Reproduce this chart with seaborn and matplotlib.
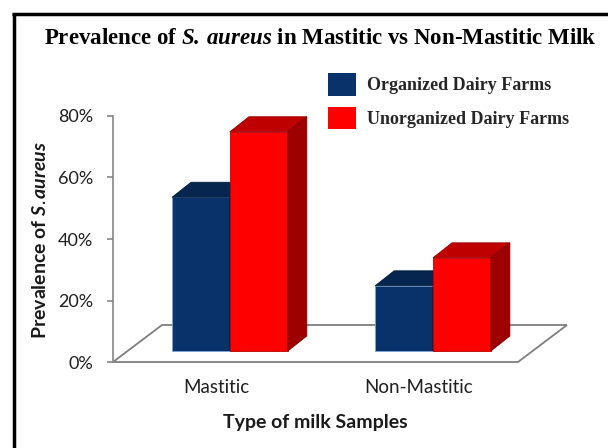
import numpy as np
import pandas as pd
import matplotlib
matplotlib.use("Agg")
import matplotlib.pyplot as plt
import seaborn as sns
from matplotlib.transforms import ScaledTranslation, IdentityTransform
from matplotlib.patches import Polygon, Patch
from matplotlib.lines import Line2D

# --- data -------------------------------------------------------------
sample_types = ["Mastitic", "Non-Mastitic"]
farm_types = ["Organized Dairy Farms", "Unorganized Dairy Farms"]
organized = [50.0, 21.2]      # % prevalence
unorganized = [71.3, 30.3]    # % prevalence
ytick_values = [0, 20, 40, 60, 80]
ytick_labels = ["0%", "20%", "40%", "60%", "80%"]

palette = ["#083269", "#ff0000"]

df = pd.DataFrame({
    "Sample": sample_types * 2,
    "Farm": [farm_types[0]] * 2 + [farm_types[1]] * 2,
    "Prevalence": organized + unorganized,
})

# --- styling ----------------------------------------------------------
sns.set_theme(style="white")
plt.rcParams["font.family"] = ["Lato", "DejaVu Sans"]
plt.rcParams["mathtext.fontset"] = "custom"
plt.rcParams["mathtext.it"] = "Lato:italic:bold"
plt.rcParams["mathtext.bfit"] = "Liberation Serif:italic:bold"

W, H, DPI = 608, 448, 100
fig = plt.figure(figsize=(W / DPI, H / DPI), dpi=DPI)
fig.patch.set_facecolor("white")

ax = fig.add_axes([113 / W, (H - 362) / H, 454 / W, 246 / H])
ax.set_facecolor("none")

sns.barplot(data=df, x="Sample", y="Prevalence", hue="Farm",
            order=sample_types, hue_order=farm_types, palette=palette,
            saturation=1, width=0.57, legend=False, errorbar=None, ax=ax)

ax.set_xlim(-0.576, 1.660)
ax.set_ylim(0, 80)

# --- pseudo-3D floor --------------------------------------------------
floor_depth = (49, 37)   # px
fx0, fy0 = ax.transAxes.transform((0, 0))
fx1 = ax.transAxes.transform((1, 0))[0]
floor = Polygon([(fx0, fy0), (fx1 - floor_depth[0], fy0),
                 (fx1, fy0 + floor_depth[1]), (fx0 + floor_depth[0], fy0 + floor_depth[1])],
                closed=True, facecolor="white", edgecolor="#7f7f7f", lw=1.3,
                transform=IdentityTransform(), zorder=1, clip_on=False)
ax.add_artist(floor)

# --- pseudo-3D bars ---------------------------------------------------
lift = ScaledTranslation(0, 11 / DPI, fig.dpi_scale_trans)
dx, dy = 19, 15
edge_colors = ["#7fa6d8", "#c00000"]
for i, cont in enumerate(ax.containers):
    for bar in cont:
        bar.set_transform(ax.transData + lift)
        bar.set_zorder(3 + 2 * i)
        bar.set_clip_on(False)
        bar.set_edgecolor(edge_colors[i])
        bar.set_linewidth(0.6)
        fc = np.array(bar.get_facecolor()[:3])
        ext = bar.get_window_extent()
        x0, y0, x1, y1 = ext.x0, ext.y0, ext.x1, ext.y1
        top = Polygon([(x0, y1), (x1, y1), (x1 + dx, y1 + dy), (x0 + dx, y1 + dy)],
                      closed=True, facecolor=fc * 0.75, edgecolor=fc * 0.6, lw=0.6,
                      transform=IdentityTransform(), zorder=3.5 + 2 * i, clip_on=False)
        side = Polygon([(x1, y0), (x1 + dx, y0 + dy), (x1 + dx, y1 + dy), (x1, y1)],
                       closed=True, facecolor=fc * 0.62, edgecolor=fc * 0.5, lw=0.6,
                       transform=IdentityTransform(), zorder=3.5 + 2 * i, clip_on=False)
        ax.add_artist(top)
        ax.add_artist(side)

# --- axes -------------------------------------------------------------
for s in ["top", "right", "bottom"]:
    ax.spines[s].set_visible(False)
ax.spines["left"].set_color("#868686")
ax.spines["left"].set_linewidth(1.2)

ax.set_yticks(ytick_values)
ax.set_yticklabels(ytick_labels, fontsize=13, color="#1f1f1f")
ax.tick_params(axis="y", left=True, length=4.3, width=1.2, color="#868686", pad=10)

ax.set_xticks(range(len(sample_types)))
ax.set_xticklabels(sample_types, fontsize=13.5, color="#1f1f1f")
ax.tick_params(axis="x", bottom=False, length=0, pad=12)
shift = ScaledTranslation(-14 / DPI, 0, fig.dpi_scale_trans)
for lbl in ax.get_xticklabels():
    lbl.set_transform(lbl.get_transform() + shift)

ax.set_xlabel("Type of milk Samples", fontweight="bold", fontsize=14, color="#1a1a1a")
ax.xaxis.set_label_coords((315 - 113) / 454, (362 - 422) / 246)
ax.xaxis.label.set_va("center")

ax.set_ylabel(r"Prevalence of $\mathit{S.\!aureus}$", fontweight="bold", fontsize=14,
              color="#1a1a1a")
ax.yaxis.set_label_coords((40.5 - 113) / 454, (362 - 240) / 246)
ax.yaxis.label.set_va("center")

# --- legend -----------------------------------------------------------
ax.legend(handles=[Patch(facecolor=c, edgecolor="none") for c in palette],
          labels=farm_types, loc="upper left",
          bbox_to_anchor=(328 / W, 1 - 73 / H), bbox_transform=fig.transFigure,
          frameon=False, prop={"family": "Liberation Serif", "weight": "bold", "size": 13},
          handlelength=1.55, handleheight=1.55, handletextpad=0.62, labelspacing=0.62,
          borderpad=0, borderaxespad=0)

# --- title and frame --------------------------------------------------
fig.text(320 / W, 1 - 38 / H,
         r"Prevalence of $\mathbfit{S.\,aureus}$ in Mastitic vs Non-Mastitic Milk",
         ha="center", va="center", fontfamily="Liberation Serif", fontweight="bold",
         fontsize=16.5, color="black")

fig.add_artist(Line2D([12 / W, 1], [1 - 14.4 / H] * 2, color="black", lw=2.5,
                      transform=fig.transFigure, solid_capstyle="butt"))
fig.add_artist(Line2D([14 / W] * 2, [0, 1 - 13 / H], color="black", lw=2.5,
                      transform=fig.transFigure, solid_capstyle="butt"))

fig.savefig("out.png", dpi=DPI, facecolor="white")
